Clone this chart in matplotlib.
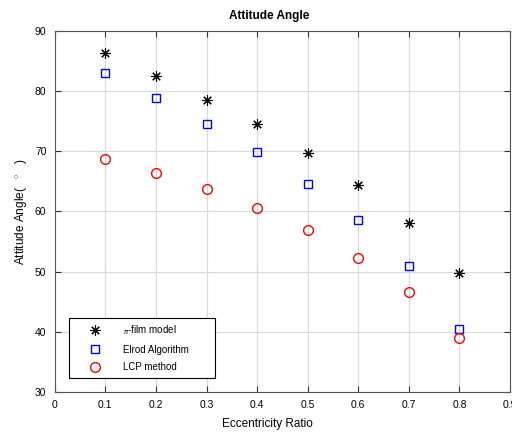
import matplotlib
matplotlib.use('Agg')
import matplotlib.pyplot as plt

plt.rcParams['font.family'] = ['Liberation Sans', 'DejaVu Sans']
plt.rcParams['mathtext.fontset'] = 'custom'
plt.rcParams['mathtext.rm'] = 'Liberation Sans'

ecc = [0.1, 0.2, 0.3, 0.4, 0.5, 0.6, 0.7, 0.8]
pi_film = [86.3, 82.5, 78.6, 74.5, 69.7, 64.4, 58.1, 49.8]
elrod = [83.0, 78.8, 74.5, 69.9, 64.6, 58.6, 51.0, 40.5]
lcp = [68.7, 66.4, 63.8, 60.6, 56.9, 52.3, 46.6, 39.0]

fig = plt.figure(figsize=(5.12, 4.32), dpi=100)
ax = fig.add_axes([0.107, 0.093, 0.889, 0.835])

ax.plot(ecc, pi_film, linestyle='none', marker=(8, 2, 0), color='black',
        markersize=7.5, markeredgewidth=0.8, label=r'$_{\pi}$-film model')
ax.plot(ecc, elrod, linestyle='none', marker='s', markerfacecolor='none',
        markeredgecolor='blue', markersize=6, markeredgewidth=1.0, label='Elrod Algorithm')
ax.plot(ecc, lcp, linestyle='none', marker='o', markerfacecolor='none',
        markeredgecolor='red', markersize=7, markeredgewidth=1.0, label='LCP method')

ax.set_xlim(0, 0.9)
ax.set_ylim(30, 90)
ax.set_xticks([0, 0.1, 0.2, 0.3, 0.4, 0.5, 0.6, 0.7, 0.8, 0.9])
ax.set_xticklabels(['0', '0.1', '0.2', '0.3', '0.4', '0.5', '0.6', '0.7', '0.8', '0.9'])
ax.set_yticks([30, 40, 50, 60, 70, 80, 90])
ax.grid(True, color='#d9d9d9', linewidth=0.8)
ax.tick_params(direction='in', top=True, right=True, labelsize=7.5, length=4,
               color='#333333', pad=6)
for s in ax.spines.values():
    s.set_color('#555555')
    s.set_linewidth(0.8)

ax.set_title('Attitude Angle', fontsize=8.5, fontweight='bold', x=0.472, pad=9)
ax.set_xlabel('Eccentricity Ratio', fontsize=8.5)
ax.xaxis.set_label_coords(0.468, -0.072)
ax.set_ylabel('Attitude Angle(   $^{\\circ}$   )', fontsize=8.5)

leg = ax.legend(loc='lower left', bbox_to_anchor=(0.031, 0.039, 0.321, 0.155),
                mode='expand', borderaxespad=0,
                fontsize=7, fancybox=False, edgecolor='black', framealpha=1,
                handlelength=4.1, handletextpad=0.9, borderpad=0.6, labelspacing=0.75)
leg.get_frame().set_linewidth(0.8)

fig.savefig('out.png', dpi=100)
